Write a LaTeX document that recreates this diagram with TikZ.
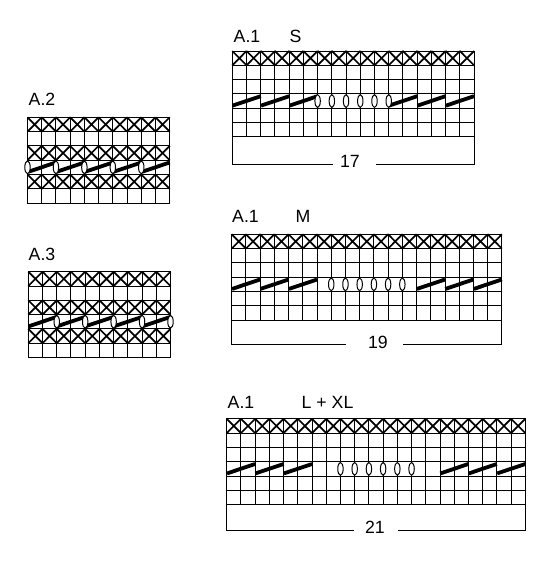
\documentclass[tikz,border=0pt]{standalone}
\usepackage{fontspec}
\setmainfont{Liberation Sans}
\def\cellw{14.22}
\def\cellh{14.3}
\newcommand\gridchart[4]{% x0,y0,ncols,nrows
  \foreach \i in {0,...,#3} {\draw[gridl] ({#1+\i*\cellw},#2) -- ++(0,{#4*\cellh});}
  \foreach \j in {0,...,#4} {\draw[gridl] (#1,{#2+\j*\cellh}) -- ++({#3*\cellw},0);}
}
\newcommand\xrow[3]{% x0, yrow, ncols
  \pgfmathtruncatemacro\nnlast{#3-1}
  \foreach \i in {0,...,\nnlast} {\draw[xmark] ({#1+\i*\cellw},#2) -- ++(\cellw,\cellh) ({#1+(\i+1)*\cellw},#2) -- ++(-\cellw,\cellh);}
}
\newcommand\cablecell[3]{% x0, yrow, startcol
  \draw[cable] ({#1+#3*\cellw+0.3},{#2+0.82*\cellh}) -- ({#1+(#3+2)*\cellw},{#2+0.16*\cellh});
}
\newcommand\ovalat[3]{% x0, yrow, gridline
  \draw[oval] ({#1+#3*\cellw},{#2+0.5*\cellh}) ellipse [x radius=2.7, y radius=6.4];
}
\newcommand\bottombox[6]{% x0, y0, ncols, ybottom, gapleft, gapright
  \draw[gridl] (#1,{#2+6*\cellh}) -- (#1,#4) -- (#5,#4);
  \draw[gridl] (#6,#4) -- ({#1+#3*\cellw},#4) -- ({#1+#3*\cellw},{#2+6*\cellh});
}
\begin{document}
\begin{tikzpicture}[x=1pt,y=-1pt,
  gridl/.style={line width=1pt, line cap=rect},
  xmark/.style={line width=1.7pt},
  cable/.style={line width=3.8pt},
  oval/.style={line width=1pt, fill=white},
  lbl/.style={inner sep=0pt, anchor=base west, font=\fontsize{17.7}{20}\selectfont},
  num/.style={inner sep=0pt, anchor=base, font=\fontsize{17.7}{20}\selectfont}]
\useasboundingbox[fill=white] (0,0) rectangle (550,566);

% ---------- A.2 ----------
\node[lbl] (tA2) at (28.5,105.5) {A.2};
\gridchart{27.5}{117.3}{10}{6}
\xrow{27.5}{117.3}{10}
\xrow{27.5}{145.9}{10}
\xrow{27.5}{174.5}{10}
\foreach \c in {0,2,4,6,8} {\cablecell{27.5}{160.2}{\c}}
\foreach \c in {0,2,4,6,8} {\ovalat{27.5}{160.2}{\c}}

% ---------- A.3 ----------
\node[lbl] (tA3) at (28.5,260) {A.3};
\gridchart{28.3}{271.7}{10}{6}
\xrow{28.3}{271.7}{10}
\xrow{28.3}{300.3}{10}
\xrow{28.3}{328.9}{10}
\foreach \c in {0,2,4,6,8} {\cablecell{28.3}{314.6}{\c}}
\foreach \c in {2,4,6,8,10} {\ovalat{28.3}{314.6}{\c}}

% ---------- A.1 S ----------
\node[lbl] (tS1) at (233.5,42.5) {A.1};
\node[lbl] (tS2) at (289.5,42.5) {S};
\gridchart{232.3}{51}{17}{6}
\xrow{232.3}{51}{17}
\foreach \c in {0,2,4,11,13,15} {\cablecell{232.3}{93.9}{\c}}
\foreach \c in {6,...,11} {\ovalat{232.3}{93.9}{\c}}
\bottombox{232.3}{51}{17}{164.5}{332}{376}
\node[num] (nS) at (350,167) {17};

% ---------- A.1 M ----------
\node[lbl] (tM1) at (232,222.5) {A.1};
\node[lbl] (tM2) at (295.5,222.5) {M};
\gridchart{231.7}{234.3}{19}{6}
\xrow{231.7}{234.3}{19}
\foreach \c in {0,2,4,13,15,17} {\cablecell{231.7}{277.2}{\c}}
\foreach \c in {7,...,12} {\ovalat{231.7}{277.2}{\c}}
\bottombox{231.7}{234.3}{19}{344.5}{345}{403}
\node[num] (nM) at (378,348) {19};

% ---------- A.1 L + XL ----------
\node[lbl] (tL1) at (227.5,408) {A.1};
\node[lbl] (tL2) at (301.5,408) {L + XL};
\gridchart{226.7}{418.8}{21}{6}
\xrow{226.7}{418.8}{21}
\foreach \c in {0,2,4,15,17,19} {\cablecell{226.7}{461.7}{\c}}
\foreach \c in {8,...,13} {\ovalat{226.7}{461.7}{\c}}
\bottombox{226.7}{418.8}{21}{530}{353}{398}
\node[num] (nL) at (375,533) {21};
\end{tikzpicture}
\end{document}
